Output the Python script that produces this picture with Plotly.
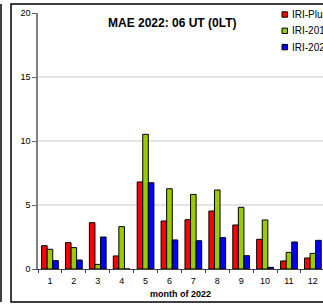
import plotly.graph_objects as go

months = ["1", "2", "3", "4", "5", "6", "7", "8", "9", "10", "11", "12"]
iri_plus = [1.82, 2.06, 3.62, 1.02, 6.80, 3.75, 3.85, 4.53, 3.44, 2.32, 0.63, 0.86]
iri_2016 = [1.54, 1.67, 0.36, 3.31, 10.52, 6.27, 5.83, 6.17, 4.82, 3.83, 1.30, 1.22]
iri_2020 = [0.65, 0.70, 2.50, 0.00, 6.74, 2.27, 2.21, 2.45, 1.04, 0.13, 2.11, 2.24]
series_names = ["IRI-Plus", "IRI-2016", "IRI-2020"]
series_colors = ["#ff0000", "#99cc00", "#0000ff"]
y_ticks = [0, 5, 10, 15, 20]
title_text = "MAE 2022: 06 UT (0LT)"
x_title = "month of 2022"

W, H = 323, 305
L, T, B = 38, 13, 36
PW = W - L
PH = H - T - B
CAT_W = 23.9


def px_x(p):
    return (p - L) / PW


def px_y(p):
    return (H - B - p) / PH


fig = go.Figure()
for name, vals, col in zip(series_names, [iri_plus, iri_2016, iri_2020], series_colors):
    fig.add_trace(go.Bar(
        x=months, y=vals, name=name,
        marker=dict(color=col, line=dict(color="#000000", width=1)),
        showlegend=False,
    ))

fig.update_layout(
    width=W, height=H,
    margin=dict(l=L, r=0, t=T, b=B, autoexpand=False),
    paper_bgcolor="white", plot_bgcolor="white",
    barmode="group", bargap=0.3, bargroupgap=0,
    font=dict(family="Liberation Sans, Arial, sans-serif", color="#000000", size=9),
    xaxis=dict(
        type="category",
        range=[-0.5, -0.5 + PW / CAT_W],
        showline=True, linecolor="#404040", linewidth=1,
        ticks="outside", ticklen=3, tickcolor="#404040", tickson="boundaries",
        ticklabelstandoff=3,
        showgrid=False, tickfont=dict(size=9),
        title=dict(text="<b>" + x_title + "</b>", font=dict(size=9), standoff=5),
    ),
    yaxis=dict(
        range=[0, 20], tickvals=y_ticks,
        showline=True, linecolor="#808080", linewidth=1.5,
        ticks="outside", ticklen=4, tickcolor="#606060",
        showgrid=True, gridcolor="#e4e4e4", gridwidth=1.5,
        zeroline=False, tickfont=dict(size=9),
    ),
)

shapes = []
# outer frame
shapes.append(dict(type="rect", xref="paper", yref="paper",
                   x0=px_x(11), x1=px_x(W + 20), y0=px_y(302), y1=px_y(4),
                   line=dict(color="#000000", width=1.5), layer="above"))
# left neighbour line
shapes.append(dict(type="line", xref="paper", yref="paper",
                   x0=px_x(1), x1=px_x(1), y0=px_y(302), y1=px_y(4),
                   line=dict(color="#000000", width=1.5)))

# legend
annotations = []
for i, (name, col) in enumerate(zip(series_names, series_colors)):
    yc = 14.5 + 16.3 * i
    shapes.append(dict(type="rect", xref="paper", yref="paper",
                       x0=px_x(282), x1=px_x(287.5), y0=px_y(yc + 2.7), y1=px_y(yc - 2.7),
                       fillcolor=col, line=dict(color="#000000", width=1)))
    annotations.append(dict(text=name, xref="paper", yref="paper",
                            x=px_x(289.5), y=px_y(yc), xanchor="left", yanchor="middle",
                            showarrow=False, font=dict(size=10), xshift=0))

annotations.append(dict(text="<b>" + title_text + "</b>", xref="paper", yref="paper",
                        x=px_x(172), y=px_y(22.5), xanchor="center", yanchor="middle",
                        showarrow=False, font=dict(size=12)))

fig.update_layout(shapes=shapes, annotations=annotations)
fig.write_html(
    "out.html",
    config={"displayModeBar": False},
    post_script="document.body.style.margin='0';document.body.style.overflow='hidden';",
)
